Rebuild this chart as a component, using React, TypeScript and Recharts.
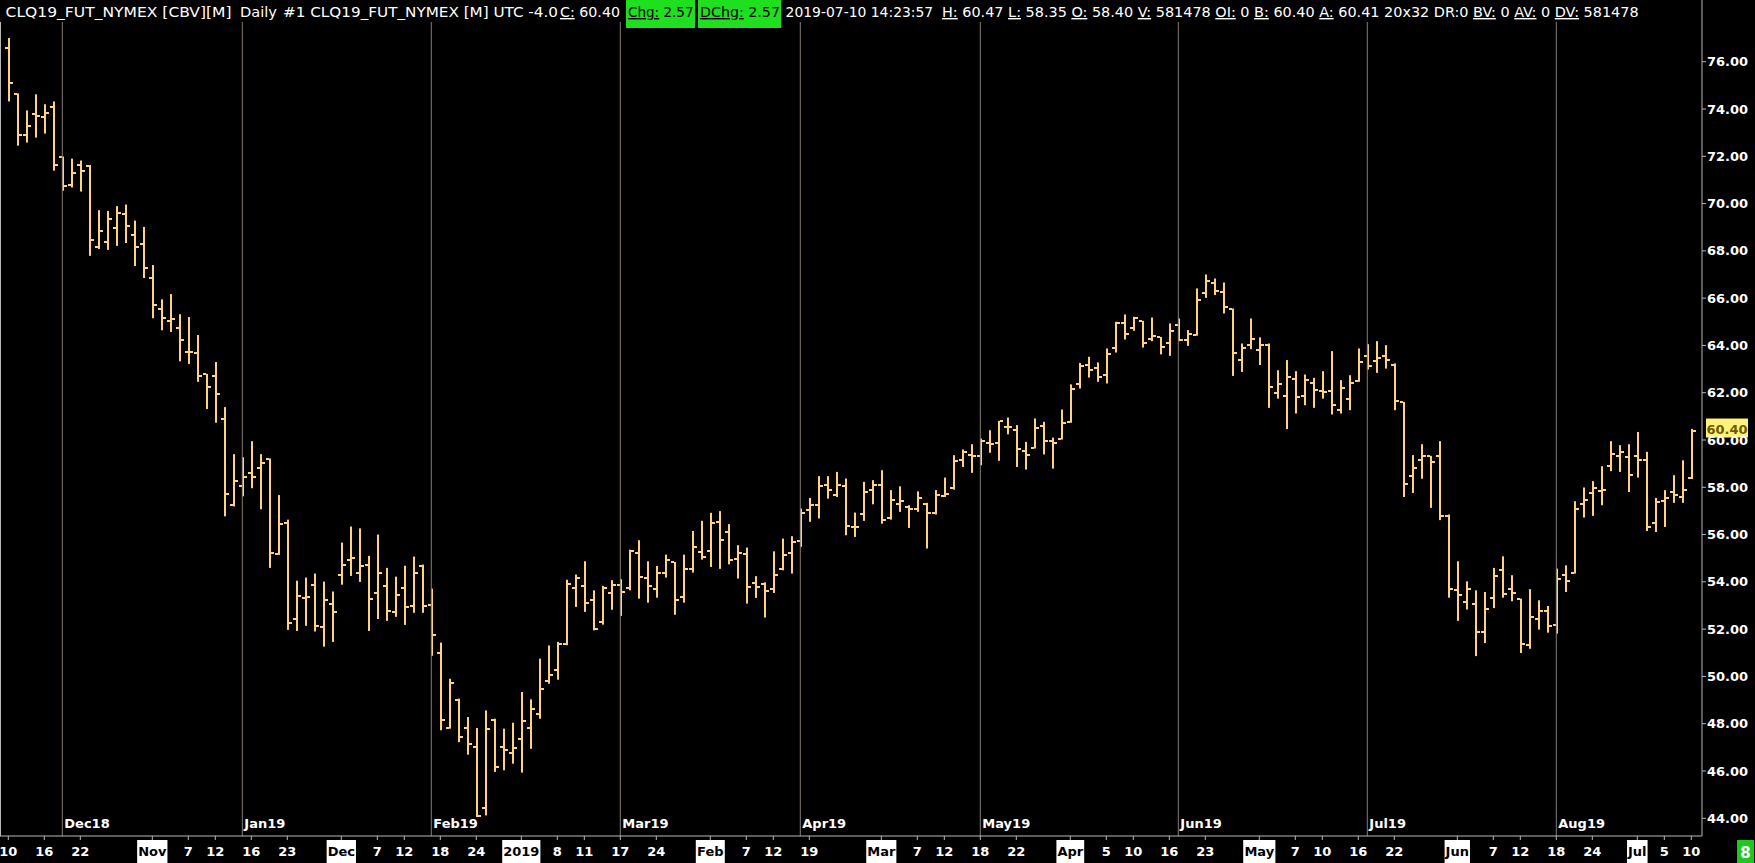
import React from "react";
import { ComposedChart, Bar, XAxis, YAxis, ReferenceLine } from "recharts";

const W = 1755;
const H = 863;

// trading sessions shown on the chart, by month
const sessions: [string, number[]][] = [
  ["2018-10", [10, 11, 12, 15, 16, 17, 18, 19, 22, 23, 24, 25, 26, 29, 30, 31]],
  ["2018-11", [1, 2, 5, 6, 7, 8, 9, 12, 13, 14, 15, 16, 19, 20, 21, 23, 26, 27, 28, 29, 30]],
  ["2018-12", [3, 4, 5, 6, 7, 10, 11, 12, 13, 14, 17, 18, 19, 20, 21, 24, 26, 27, 28, 31]],
  ["2019-01", [2, 3, 4, 7, 8, 9, 10, 11, 14, 15, 16, 17, 18, 22, 23, 24, 25, 28, 29, 30, 31]],
  ["2019-02", [1, 4, 5, 6, 7, 8, 11, 12, 13, 14, 15, 19, 20, 21, 22, 25, 26, 27, 28]],
  ["2019-03", [1, 4, 5, 6, 7, 8, 11, 12, 13, 14, 15, 18, 19, 20, 21, 22, 25, 26, 27, 28, 29]],
  ["2019-04", [1, 2, 3, 4, 5, 8, 9, 10, 11, 12, 15, 16, 17, 18, 22, 23, 24, 25, 26, 29, 30]],
  ["2019-05", [1, 2, 3, 6, 7, 8, 9, 10, 13, 14, 15, 16, 17, 20, 21, 22, 23, 24, 28, 29, 30, 31]],
  ["2019-06", [3, 4, 5, 6, 7, 10, 11, 12, 13, 14, 17, 18, 19, 20, 21, 24, 25, 26, 27, 28]],
  ["2019-07", [1, 2, 3, 5, 8, 9, 10]],
];

const opens = [
  76.58, 74.62, 72.89, 73.77, 73.67, 74.09, 71.97, 70.78, 71.61, 71.60, 68.16, 68.36, 68.96, 69.55, 68.69, 68.31,
  66.87, 65.54, 65.05, 64.73, 63.74, 63.69, 62.77, 62.72, 60.88, 57.24, 58.04, 58.59, 58.83, 59.18, 55.19, 56.51,
  52.41, 53.33, 53.88, 52.09, 53.06, 54.27, 54.93, 54.39, 54.73, 53.54, 53.84, 52.72, 53.74, 52.98, 54.68, 53.03,
  50.99, 47.83, 49.02, 47.82, 47.01, 44.45, 48.17, 47.01, 46.76, 47.37, 47.82, 48.42, 49.82, 50.26, 51.36, 53.73,
  53.81, 53.22, 52.30, 53.54, 53.85, 53.76, 55.24, 54.18, 53.71, 54.38, 54.83, 53.36, 54.53, 55.26, 55.29, 56.53,
  56.11, 54.97, 55.17, 53.93, 53.90, 53.70, 54.56, 55.22, 55.73, 57.03, 57.27, 58.09, 57.69, 58.06, 56.32, 56.85,
  57.88, 58.09, 56.68, 57.31, 57.17, 57.06, 57.28, 56.92, 57.62, 57.95, 59.17, 59.36, 59.31, 59.88, 59.88, 60.55,
  60.41, 59.54, 59.68, 60.58, 59.96, 60.06, 60.77, 62.35, 63.19, 63.05, 62.73, 63.87, 64.93, 64.74, 65.04, 64.27,
  64.34, 64.12, 64.86, 64.25, 64.46, 66.20, 66.62, 66.27, 65.54, 63.38, 64.01, 63.80, 64.01, 61.99, 61.87, 62.57,
  61.87, 62.43, 62.06, 62.06, 61.26, 61.75, 62.50, 63.55, 63.33, 63.55, 63.19, 61.59, 58.47, 59.17, 59.31, 59.34,
  56.79, 53.64, 53.15, 53.08, 51.88, 53.33, 54.49, 53.69, 53.26, 51.32, 52.42, 52.75, 52.19, 54.31, 54.39, 57.28,
  57.74, 57.83, 58.89, 59.31, 59.27, 59.31, 59.17, 56.49, 57.41, 57.78, 57.59, 58.40,
];

const highs = [
  77.00, 74.66, 73.94, 74.62, 74.20, 74.32, 71.99, 71.90, 71.82, 71.63, 69.72, 69.69, 69.89, 69.96, 69.28, 69.01,
  67.40, 65.95, 66.17, 65.32, 65.20, 64.44, 62.80, 63.30, 61.39, 59.40, 59.27, 59.95, 59.40, 59.22, 57.67, 56.63,
  54.05, 54.18, 54.35, 54.01, 53.59, 55.66, 56.34, 56.26, 55.10, 56.00, 54.59, 54.22, 54.68, 55.07, 54.73, 53.71,
  51.43, 49.90, 49.06, 48.28, 47.82, 48.56, 48.21, 47.79, 48.04, 49.34, 49.03, 50.75, 51.31, 51.46, 54.09, 54.31,
  54.87, 53.64, 53.83, 54.07, 54.11, 55.36, 55.76, 54.87, 54.67, 55.15, 54.84, 55.15, 56.15, 56.58, 56.92, 56.99,
  56.44, 55.55, 55.45, 54.24, 53.98, 55.29, 55.83, 55.93, 57.10, 57.55, 58.47, 58.47, 58.65, 58.37, 56.93, 58.23,
  58.30, 58.72, 57.88, 58.04, 57.24, 57.83, 57.34, 57.88, 58.41, 59.36, 59.60, 59.82, 60.06, 60.41, 60.81, 60.95,
  60.63, 59.92, 60.91, 60.77, 60.10, 61.29, 62.35, 63.26, 63.52, 63.28, 63.87, 65.00, 65.31, 65.21, 65.04, 65.18,
  64.36, 64.93, 65.14, 64.65, 66.41, 67.00, 66.83, 66.66, 65.56, 64.08, 65.14, 64.34, 64.08, 62.95, 63.38, 62.91,
  62.77, 62.63, 62.91, 63.76, 62.53, 62.74, 63.87, 64.05, 64.18, 64.01, 63.24, 61.61, 59.36, 59.82, 59.33, 59.95,
  56.85, 54.87, 54.02, 53.64, 53.57, 54.59, 55.08, 54.28, 53.29, 53.69, 53.22, 52.98, 54.56, 54.70, 57.41, 57.99,
  58.26, 58.89, 59.95, 59.78, 59.82, 60.34, 59.50, 57.55, 57.88, 58.51, 59.14, 60.47,
];

const lows = [
  74.32, 72.45, 72.58, 72.79, 72.96, 71.39, 70.54, 70.68, 70.51, 67.79, 68.08, 68.04, 68.21, 68.33, 67.36, 66.85,
  65.15, 64.64, 64.57, 63.33, 63.21, 62.46, 61.31, 60.73, 56.77, 57.19, 57.62, 57.96, 57.07, 54.59, 55.14, 51.97,
  51.92, 52.14, 51.90, 51.26, 51.46, 53.88, 54.25, 54.00, 51.92, 52.43, 52.35, 52.52, 52.18, 52.69, 52.69, 50.87,
  47.72, 47.79, 47.22, 46.69, 44.05, 44.12, 45.96, 46.03, 46.31, 45.93, 46.94, 48.21, 49.69, 49.86, 51.32, 52.94,
  52.73, 51.95, 52.19, 52.82, 52.56, 53.64, 53.29, 53.12, 53.33, 54.18, 52.61, 53.12, 54.39, 54.94, 54.63, 54.55,
  54.74, 54.14, 53.08, 53.32, 52.49, 53.53, 54.49, 54.35, 55.48, 56.54, 56.68, 57.52, 57.59, 55.97, 55.90, 56.58,
  57.28, 56.46, 56.63, 56.96, 56.28, 56.96, 55.41, 56.85, 57.59, 57.90, 58.86, 58.61, 58.93, 59.46, 59.12, 60.24,
  58.86, 58.75, 59.64, 59.39, 58.79, 60.02, 60.73, 62.18, 62.64, 62.46, 62.39, 63.70, 64.25, 64.62, 63.91, 64.18,
  63.62, 63.56, 64.18, 63.98, 64.41, 66.01, 66.13, 65.35, 62.71, 62.88, 63.84, 63.17, 61.36, 61.75, 60.46, 61.12,
  61.47, 61.36, 61.75, 61.08, 61.12, 61.26, 62.46, 62.98, 62.84, 63.02, 61.26, 57.59, 57.76, 58.36, 57.13, 56.61,
  53.33, 52.35, 52.83, 50.86, 51.41, 52.89, 53.33, 53.18, 50.99, 51.17, 51.98, 51.85, 51.81, 53.57, 54.35, 56.72,
  56.79, 57.24, 58.68, 58.65, 57.80, 58.41, 56.15, 56.11, 56.32, 57.34, 57.34, 58.35,
];

const closes = [
  75.10, 72.89, 73.26, 73.70, 73.82, 71.65, 70.75, 71.31, 71.36, 68.45, 68.84, 69.35, 69.59, 69.03, 68.18, 67.29,
  65.69, 65.15, 65.10, 64.22, 63.71, 62.70, 62.23, 61.94, 57.70, 58.26, 58.45, 58.45, 59.01, 55.24, 56.43, 52.26,
  53.42, 53.37, 52.13, 53.25, 52.74, 54.71, 55.02, 54.68, 53.28, 54.39, 52.77, 53.45, 52.94, 54.39, 52.99, 51.75,
  48.17, 49.72, 47.44, 47.13, 44.08, 47.77, 46.17, 46.87, 46.97, 48.11, 48.62, 49.48, 50.06, 51.36, 53.92, 54.18,
  53.12, 52.02, 53.73, 53.85, 53.59, 55.31, 54.22, 53.84, 54.38, 54.94, 53.22, 54.53, 55.48, 55.03, 56.51, 55.79,
  54.91, 55.24, 53.80, 53.78, 53.61, 54.31, 55.12, 55.69, 56.92, 57.27, 58.04, 57.87, 58.11, 56.35, 56.32, 57.80,
  58.09, 56.63, 57.45, 57.41, 57.10, 57.55, 56.93, 57.66, 57.73, 59.12, 59.50, 59.33, 59.95, 59.85, 60.79, 60.53,
  59.60, 59.36, 60.49, 59.96, 59.88, 60.73, 62.14, 63.12, 62.98, 62.67, 63.63, 64.93, 64.48, 65.14, 64.12, 64.41,
  63.94, 64.60, 64.25, 64.48, 65.94, 66.72, 66.30, 65.61, 63.69, 63.90, 64.29, 64.01, 62.25, 62.36, 62.67, 61.80,
  62.53, 62.11, 62.04, 61.47, 62.18, 62.43, 63.28, 63.14, 63.48, 63.38, 61.64, 58.13, 58.83, 59.34, 59.05, 56.79,
  53.71, 53.46, 53.71, 51.88, 52.84, 54.24, 53.50, 53.53, 51.39, 52.52, 52.77, 52.13, 54.14, 54.02, 57.10, 57.45,
  57.95, 57.88, 59.40, 59.50, 58.51, 59.17, 56.32, 57.38, 57.55, 57.69, 57.88, 60.40,
];

const yTicks = [44, 46, 48, 50, 52, 54, 56, 58, 60, 62, 64, 66, 68, 70, 72, 74, 76];

// [date, label, boxed]
const dateTicks: [string, string, boolean][] = [
  ["2018-10-10", "10", false], ["2018-10-16", "16", false], ["2018-10-22", "22", false],
  ["2018-11-01", "Nov", true], ["2018-11-07", "7", false], ["2018-11-12", "12", false],
  ["2018-11-16", "16", false], ["2018-11-23", "23", false],
  ["2018-12-03", "Dec", true], ["2018-12-07", "7", false], ["2018-12-12", "12", false],
  ["2018-12-18", "18", false], ["2018-12-24", "24", false],
  ["2019-01-02", "2019", true], ["2019-01-08", "8", false], ["2019-01-11", "11", false],
  ["2019-01-17", "17", false], ["2019-01-24", "24", false],
  ["2019-02-01", "Feb", true], ["2019-02-07", "7", false], ["2019-02-12", "12", false], ["2019-02-19", "19", false],
  ["2019-03-01", "Mar", true], ["2019-03-07", "7", false], ["2019-03-12", "12", false],
  ["2019-03-18", "18", false], ["2019-03-22", "22", false],
  ["2019-04-01", "Apr", true], ["2019-04-05", "5", false], ["2019-04-10", "10", false],
  ["2019-04-16", "16", false], ["2019-04-23", "23", false],
  ["2019-05-01", "May", true], ["2019-05-07", "7", false], ["2019-05-10", "10", false],
  ["2019-05-16", "16", false], ["2019-05-22", "22", false],
  ["2019-06-03", "Jun", true], ["2019-06-07", "7", false], ["2019-06-12", "12", false],
  ["2019-06-18", "18", false], ["2019-06-24", "24", false],
  ["2019-07-01", "Jul", true], ["2019-07-05", "5", false], ["2019-07-10", "10", false],
];

// contract roll markers
const rolls: [string, string][] = [
  ["2018-10-18", "Dec18"], ["2018-11-15", "Jan19"], ["2018-12-17", "Feb19"],
  ["2019-01-17", "Mar19"], ["2019-02-15", "Apr19"], ["2019-03-18", "May19"],
  ["2019-04-17", "Jun19"], ["2019-05-17", "Jul19"], ["2019-06-18", "Aug19"],
];

const lastPrice = 60.4;

const BAR = "#ffd27f";
const AXIS = "#b8b8b8";
const GRID = "#857c74";
const GREEN = "#1fe01f";
const FONT = "'DejaVu Sans', Verdana, sans-serif";
const HEAD_FONT = "'DejaVu Sans Condensed', 'DejaVu Sans', sans-serif";

const dates = sessions.flatMap(([m, days]) => days.map((d) => `${m}-${String(d).padStart(2, "0")}`));
const rows = dates.map((date, i) => ({ date, open: opens[i], high: highs[i], low: lows[i], close: closes[i] }));

const tickMap = new Map(dateTicks.map(([d, t, box]) => [d, { t, box }]));

// rough DejaVu Sans Bold advance widths (em)
const CW: Record<string, number> = {
  N: 0.837, o: 0.687, v: 0.652, D: 0.83, e: 0.678, c: 0.593, F: 0.683, b: 0.716, M: 0.995,
  a: 0.675, r: 0.493, A: 0.774, p: 0.716, y: 0.652, J: 0.372, u: 0.712, n: 0.712, l: 0.343,
};
const textW = (s: string, size: number) => [...s].reduce((a, ch) => a + (CW[ch] ?? 0.696) * size, 0);

function OhlcBar(props: any) {
  const { x, y, width, height, payload } = props;
  if (x == null || y == null) return <g />;
  const cx = Math.round(x + width / 2);
  const { open, high, low, close } = payload;
  const span = high - low || 1;
  const at = (v: number) => Math.round(y + ((high - v) / span) * height);
  return (
    <g fill={BAR}>
      <rect x={cx - 1} y={y} width={2} height={Math.max(height, 1)} />
      <rect x={cx - 4} y={at(open) - 1} width={3} height={2} />
      <rect x={cx + 1} y={at(close) - 1} width={3} height={2} />
    </g>
  );
}

function DateTick(props: any) {
  const { x, y, payload } = props;
  const hit = tickMap.get(payload.value);
  if (!hit) return <g />;
  const w = textW(hit.t, 13);
  return (
    <g>
      <line x1={x} x2={x} y1={y} y2={y + 4} stroke={AXIS} />
      {hit.box && <rect x={x - w / 2 - 1} y={y + 4} width={w + 2} height={23} fill="#fff" />}
      <text x={x} y={y + 20} textAnchor="middle" fill={hit.box ? "#000" : "#fff"}
        fontSize={13} fontWeight={700} fontFamily={FONT}>{hit.t}</text>
    </g>
  );
}

function RollTag(props: any) {
  const { viewBox, text } = props;
  if (!viewBox) return null;
  return (
    <text x={viewBox.x + 2} y={viewBox.y + viewBox.height - 8} fill="#fff"
      fontSize={13} fontWeight={700} fontFamily={FONT}>{text}</text>
  );
}

function PriceTag(props: any) {
  const { viewBox, text } = props;
  if (!viewBox) return null;
  const x = viewBox.x + viewBox.width + 4;
  const cy = viewBox.y;
  return (
    <g>
      <rect x={x} y={cy - 12} width={42} height={19} fill="#fff27a" />
      <text x={x + 21} y={cy + 3} textAnchor="middle" fill="#6e5a00"
        fontSize={13} fontWeight={700} fontFamily={FONT}>{text}</text>
    </g>
  );
}

function Header() {
  const u = { textDecoration: "underline" } as React.CSSProperties;
  return (
    <g fontFamily={HEAD_FONT} fontSize={14}>
      <rect x={626} y={0} width={69} height={28} fill={GREEN} />
      <rect x={698} y={0} width={83} height={28} fill={GREEN} />
      <g fill="#fff">
        <text x={5.6} y={17} textLength={226} lengthAdjust="spacingAndGlyphs">CLQ19_FUT_NYMEX [CBV][M]</text>
        <text x={240} y={17} textLength={37} lengthAdjust="spacingAndGlyphs">Daily</text>
        <text x={283} y={17} textLength={275} lengthAdjust="spacingAndGlyphs">#1 CLQ19_FUT_NYMEX [M] UTC -4.0</text>
        <text x={560} y={17} textLength={60} lengthAdjust="spacingAndGlyphs">
          <tspan style={u}>C:</tspan> 60.40
        </text>
        <text x={785.6} y={17} textLength={147.6} lengthAdjust="spacingAndGlyphs">2019-07-10 14:23:57</text>
        <text x={942} y={17} textLength={696.6} lengthAdjust="spacingAndGlyphs">
          <tspan style={u}>H:</tspan> 60.47 <tspan style={u}>L:</tspan> 58.35 <tspan style={u}>O:</tspan> 58.40{" "}
          <tspan style={u}>V:</tspan> 581478 <tspan style={u}>OI:</tspan> 0 <tspan style={u}>B:</tspan> 60.40{" "}
          <tspan style={u}>A:</tspan> 60.41 20x32 DR:0 <tspan style={u}>BV:</tspan> 0 <tspan style={u}>AV:</tspan> 0{" "}
          <tspan style={u}>DV:</tspan> 581478
        </text>
      </g>
      <g fill="#000">
        <text x={628} y={17} textLength={65.6} lengthAdjust="spacingAndGlyphs">
          <tspan style={u}>Chg:</tspan> 2.57
        </text>
        <text x={700} y={17} textLength={80} lengthAdjust="spacingAndGlyphs">
          <tspan style={u}>DChg:</tspan> 2.57
        </text>
      </g>
    </g>
  );
}

export default function App() {
  return (
    <div style={{ position: "absolute", left: 0, top: 0, width: W, height: H, background: "#000", overflow: "hidden" }}>
      <ComposedChart width={W} height={H} data={rows} margin={{ top: 0, right: 0, bottom: 0, left: 0 }}>
        <XAxis dataKey="date" interval={0} tick={<DateTick />} tickLine={false} tickSize={0} tickMargin={0}
          axisLine={{ stroke: AXIS }} height={27} padding={{ left: 3.8, right: 6.2 }} />
        <YAxis orientation="right" type="number" domain={[43.25, 78.61]} allowDataOverflow ticks={yTicks}
          tickFormatter={(v: number) => v.toFixed(2)} width={53} axisLine={{ stroke: AXIS }}
          tickLine={{ stroke: AXIS }} tickSize={4} tickMargin={1}
          tick={{ fill: "#fff", fontSize: 13, fontWeight: 700, fontFamily: FONT }} />
        {rolls.map(([d, name]) => (
          <ReferenceLine key={d} ifOverflow="visible" stroke={GRID}
            segment={[{ x: d, y: 77.68 }, { x: d, y: 43.25 }]}
            label={<RollTag text={name} />} />
        ))}
        <Bar dataKey={(d: any) => [d.low, d.high]} barSize={8} shape={(p: any) => <OhlcBar {...p} />}
          isAnimationActive={false} />
        <ReferenceLine y={lastPrice} ifOverflow="visible" stroke="none" strokeOpacity={0}
          label={<PriceTag text={lastPrice.toFixed(2)} />} />
      </ComposedChart>
      <svg width={W} height={H} style={{ position: "absolute", left: 0, top: 0, pointerEvents: "none" }}>
        <line x1={0.5} x2={0.5} y1={22} y2={836} stroke={AXIS} />
        <Header />
        <rect x={1737} y={840} width={17} height={23} fill="#1ec81e" />
        <text x={1745.5} y={858} textAnchor="middle" fill="#fff" fontSize={15} fontWeight={700} fontFamily={FONT}>8</text>
      </svg>
    </div>
  );
}
